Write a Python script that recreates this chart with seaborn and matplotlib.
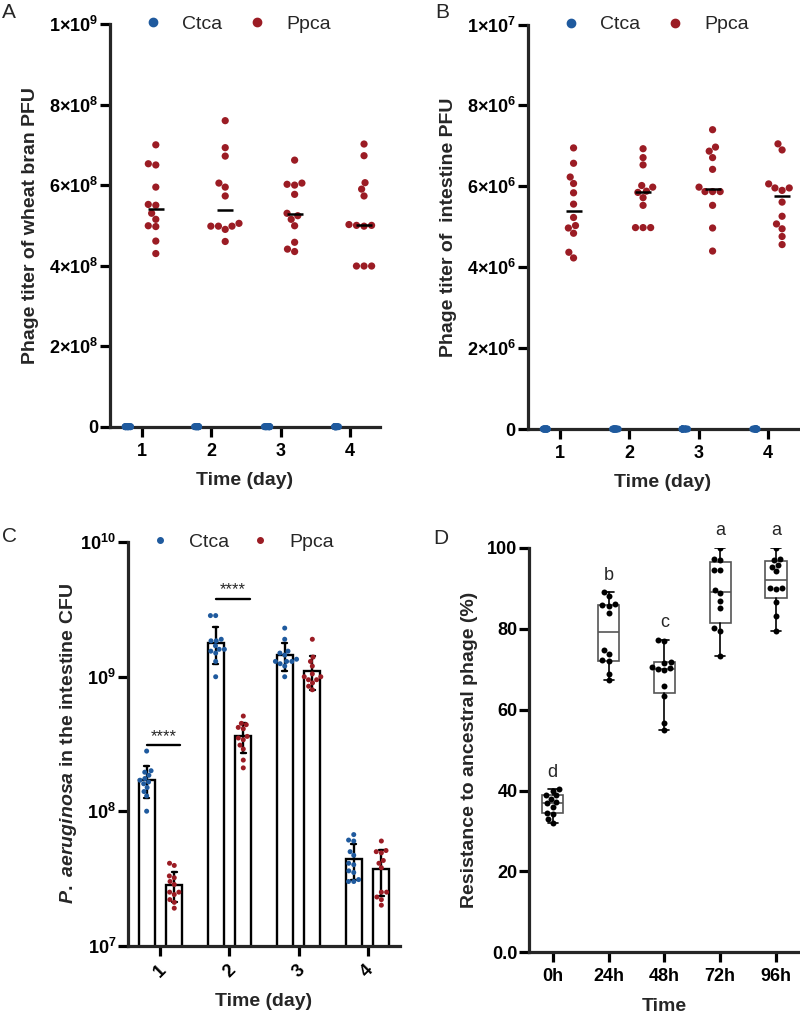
import matplotlib.pyplot as plt
import numpy as np
import pandas as pd
import seaborn as sns
from matplotlib.lines import Line2D

days = ["1", "2", "3", "4"]
groups = ["Ctca", "Ppca"]
times = ["0h", "24h", "48h", "72h", "96h"]
n_mice = 12

# A: phage titer of wheat bran, x1e8 PFU (Ctca had no phage)
bran_ctca = [[0.0] * n_mice for _ in days]
bran_ppca = [
    [7.0, 6.53, 6.5, 5.95, 5.52, 5.5, 5.3, 5.15, 4.99, 4.97, 4.61, 4.3],
    [7.6, 6.93, 6.72, 6.05, 5.95, 5.73, 5.05, 4.98, 4.98, 4.98, 4.9, 4.6],
    [6.62, 6.05, 6.02, 6.0, 5.77, 5.3, 5.24, 5.15, 4.99, 4.58, 4.41, 4.35],
    [7.02, 6.73, 6.06, 5.9, 5.73, 5.02, 5.0, 5.0, 4.98, 3.99, 3.99, 3.99],
]

# B: phage titer of intestine, x1e6 PFU
gut_ctca = [[0.0] * n_mice for _ in days]
gut_ppca = [
    [6.95, 6.57, 6.23, 6.07, 5.84, 5.56, 5.23, 5.03, 4.97, 4.84, 4.37, 4.23],
    [6.93, 6.71, 6.53, 6.02, 5.98, 5.88, 5.85, 5.72, 5.53, 4.98, 4.98, 4.98],
    [7.40, 6.97, 6.87, 6.71, 6.42, 5.98, 5.87, 5.87, 5.87, 5.53, 4.97, 4.40],
    [7.05, 6.90, 6.06, 5.96, 5.96, 5.90, 5.61, 5.26, 5.07, 4.95, 4.76, 4.56],
]

# C: P. aeruginosa in the intestine, CFU
cfu_ctca = [
    [2.8e8, 2.0e8, 1.95e8, 1.85e8, 1.75e8, 1.7e8, 1.65e8, 1.6e8, 1.5e8, 1.4e8, 1.3e8, 1.0e8],
    [2.85e9, 2.85e9, 1.9e9, 1.85e9, 1.85e9, 1.7e9, 1.6e9, 1.6e9, 1.55e9, 1.5e9, 1.3e9, 1.0e9],
    [2.3e9, 1.9e9, 1.55e9, 1.5e9, 1.45e9, 1.35e9, 1.3e9, 1.3e9, 1.3e9, 1.25e9, 1.2e9, 1.0e9],
    [6.7e7, 6.1e7, 6.0e7, 5.0e7, 4.7e7, 4.1e7, 4.0e7, 3.6e7, 3.5e7, 3.1e7, 3.0e7, 3.0e7],
]
cfu_ppca = [
    [4.1e7, 3.95e7, 3.3e7, 3.2e7, 3.0e7, 2.85e7, 2.5e7, 2.5e7, 2.4e7, 2.2e7, 2.1e7, 1.9e7],
    [5.1e8, 4.5e8, 4.4e8, 4.2e8, 4.1e8, 3.6e8, 3.5e8, 3.4e8, 3.1e8, 2.9e8, 2.4e8, 2.1e8],
    [1.9e9, 1.4e9, 1.3e9, 1.2e9, 1.05e9, 1.0e9, 1.0e9, 0.95e9, 0.95e9, 0.9e9, 0.85e9, 0.8e9],
    [6.0e7, 5.1e7, 5.0e7, 4.9e7, 4.3e7, 4.1e7, 3.8e7, 2.5e7, 2.5e7, 2.3e7, 2.2e7, 2.0e7],
]
sig_days = ["1", "2"]
sig_heights = [3.1e8, 3.8e9]

# D: resistance to ancestral phage (%)
resistance = [
    [40.3, 40.0, 39.0, 38.8, 38.0, 37.2, 36.8, 36.0, 34.5, 34.3, 33.0, 32.0],
    [89.0, 88.0, 86.0, 85.8, 85.6, 83.8, 74.7, 73.7, 72.2, 72.0, 68.9, 67.4],
    [77.3, 77.0, 71.8, 71.6, 70.5, 70.2, 70.0, 69.8, 65.8, 63.4, 56.8, 54.9],
    [100.0, 97.2, 97.0, 94.6, 94.4, 89.5, 88.7, 86.8, 85.2, 80.1, 79.5, 73.3],
    [100.0, 97.2, 97.0, 95.8, 95.3, 94.2, 90.1, 90.0, 89.8, 86.7, 83.2, 79.5],
]
letters = ["d", "b", "c", "a", "a"]

palette = {"Ctca": "#1f5a9e", "Ppca": "#9b1c24"}
SPINE_W = 2.3

sns.set_style("ticks")
plt.rcParams["font.family"] = ["Liberation Sans", "DejaVu Sans"]
plt.rcParams["mathtext.fontset"] = "custom"
plt.rcParams["mathtext.rm"] = "Liberation Sans:bold"
plt.rcParams["mathtext.bf"] = "Liberation Sans:bold"
plt.rcParams["mathtext.it"] = "Liberation Sans:italic:bold"
np.random.seed(3)


def to_long(ctca, ppca, scale=1.0):
    rows = []
    for day, c_vals, p_vals in zip(days, ctca, ppca):
        rows += [(day, "Ctca", v * scale) for v in c_vals]
        rows += [(day, "Ppca", v * scale) for v in p_vals]
    return pd.DataFrame(rows, columns=["day", "group", "value"])


def style_axis(ax, xlabel, ylabel, ypad=7):
    sns.despine(ax=ax)
    ax.spines[["left", "bottom"]].set_linewidth(SPINE_W)
    ax.tick_params(width=SPINE_W, length=7.5, labelsize=13, colors="black")
    ax.tick_params(axis="y", pad=1)
    ax.tick_params(axis="x", pad=4)
    for lbl in ax.get_xticklabels() + ax.get_yticklabels():
        lbl.set_fontweight("bold")
    ax.set_xlabel(xlabel, fontsize=14, fontweight="bold", labelpad=9)
    ax.set_ylabel(ylabel, fontsize=14, fontweight="bold", labelpad=ypad)


def add_legend(ax, anchor_x, msize, spacing):
    handles = [
        Line2D([], [], marker="o", ls="", color=palette[g], markersize=msize)
        for g in groups
    ]
    ax.legend(
        handles, groups, loc="center", bbox_to_anchor=(anchor_x, 1.0), ncol=2,
        frameon=False, fontsize=14, handlelength=1.0, handletextpad=1.0,
        columnspacing=spacing, borderaxespad=0,
    )


def phage_panel(ax, df, ymax, ticks, ticklabels, ylabel):
    ctca = df[df["group"] == "Ctca"]
    ppca = df[df["group"] == "Ppca"]
    sns.stripplot(
        data=ctca, x="day", y="value", hue="group", hue_order=groups, order=days,
        palette=palette, dodge=True, jitter=0.09, size=5, legend=False,
        clip_on=False, zorder=5, ax=ax,
    )
    sns.swarmplot(
        data=ppca, x="day", y="value", hue="group", hue_order=groups, order=days,
        palette=palette, dodge=True, size=5.2, legend=False, zorder=3, ax=ax,
    )
    sns.pointplot(
        data=ppca, x="day", y="value", hue="group", hue_order=groups, order=days,
        palette={"Ctca": "black", "Ppca": "black"}, estimator="median",
        errorbar=None, dodge=0.4, markers="_", linestyles="none", markersize=12,
        markeredgewidth=1.8, legend=False, zorder=4, ax=ax,
    )
    ax.set_xlim(-0.46, 3.43)
    ax.set_ylim(0, ymax)
    ax.set_yticks(ticks)
    ax.set_yticklabels(ticklabels)
    style_axis(ax, "Time (day)", ylabel)
    add_legend(ax, 0.47, 6, 1.3)


fig = plt.figure(figsize=(8, 10.14), dpi=100)

# A
ax_a = fig.add_axes([0.1375, 0.5792, 0.3375, 0.3971])
bran = to_long(bran_ctca, bran_ppca, 1e8)
phage_panel(
    ax_a, bran, 1e9, [0, 2e8, 4e8, 6e8, 8e8, 1e9],
    ["0", r"$\mathbf{2×10^{8}}$", r"$\mathbf{4×10^{8}}$", r"$\mathbf{6×10^{8}}$",
     r"$\mathbf{8×10^{8}}$", r"$\mathbf{1×10^{9}}$"],
    "Phage titer of wheat bran PFU",
)

# B
ax_b = fig.add_axes([0.6596, 0.5769, 0.338, 0.3989])
gut = to_long(gut_ctca, gut_ppca, 1e6)
phage_panel(
    ax_b, gut, 1e7, [0, 2e6, 4e6, 6e6, 8e6, 1e7],
    ["0", r"$\mathbf{2×10^{6}}$", r"$\mathbf{4×10^{6}}$", r"$\mathbf{6×10^{6}}$",
     r"$\mathbf{8×10^{6}}$", r"$\mathbf{1×10^{7}}$"],
    "Phage titer of  intestine PFU",
)

# C
ax_c = fig.add_axes([0.16, 0.0674, 0.34, 0.3978])
cfu = to_long(cfu_ctca, cfu_ppca)
sns.barplot(
    data=cfu, x="day", y="value", hue="group", hue_order=groups, order=days,
    palette={"Ctca": "white", "Ppca": "white"}, edgecolor="black", linewidth=1.7,
    errorbar="sd", width=0.8, gap=0.42, capsize=0.15,
    err_kws={"color": "black", "linewidth": 1.7}, legend=False, ax=ax_c,
)
ax_c.set_yscale("log")
ax_c.set_ylim(1e7, 1e10)
sns.swarmplot(
    data=cfu, x="day", y="value", hue="group", hue_order=groups, order=days,
    palette=palette, dodge=True, size=3.6, legend=False, zorder=3, ax=ax_c,
)
ax_c.set_xlim(-0.47, 3.47)
ax_c.minorticks_off()
ax_c.set_yticks([1e7, 1e8, 1e9, 1e10])
ax_c.set_yticklabels([r"$\mathbf{10^{7}}$", r"$\mathbf{10^{8}}$",
                      r"$\mathbf{10^{9}}$", r"$\mathbf{10^{10}}$"])
for day, h in zip(sig_days, sig_heights):
    i = days.index(day)
    ax_c.plot([i - 0.2, i + 0.29], [h, h], color="black", lw=1.7)
    ax_c.annotate("****", (i + 0.045, h), xytext=(0, 1), textcoords="offset points",
                  ha="center", va="bottom", fontsize=12)
style_axis(ax_c, "Time (day)",
           r"$P.\ aeruginosa$ in the intestine CFU", ypad=1)
plt.setp(ax_c.get_xticklabels(), rotation=45, ha="center")
add_legend(ax_c, 0.42, 4, 1.1)

# D
ax_d = fig.add_axes([0.6616, 0.0608, 0.3384, 0.399])
res = pd.DataFrame(
    [(t, v) for t, vals in zip(times, resistance) for v in vals],
    columns=["time", "value"],
)
sns.swarmplot(data=res, x="time", y="value", order=times, color="black",
              size=4.3, zorder=3, ax=ax_d)
stats = []
for vals in resistance:
    v = np.asarray(vals)
    q1, med, q3 = np.percentile(v, [25, 50, 75], method="weibull")
    stats.append(dict(med=med, q1=q1, q3=q3, whislo=v.min(), whishi=v.max(), fliers=[]))
ax_d.bxp(
    stats, positions=np.arange(len(times)), widths=0.38, patch_artist=True,
    manage_ticks=False, showfliers=False, capwidths=0.18,
    boxprops=dict(facecolor="white", edgecolor="#555555", linewidth=1.2),
    medianprops=dict(color="#555555", linewidth=1.2),
    whiskerprops=dict(color="black", linewidth=1.2),
    capprops=dict(color="black", linewidth=1.2),
)
for i, (vals, letter) in enumerate(zip(resistance, letters)):
    ax_d.annotate(letter, (i, max(vals)), xytext=(0, 6), textcoords="offset points",
                  ha="center", va="bottom", fontsize=13, annotation_clip=False)
ax_d.set_xlim(-0.42, 4.43)
ax_d.set_ylim(0, 100)
ax_d.set_yticks([0, 20, 40, 60, 80, 100])
ax_d.set_yticklabels(["0.0", "20", "40", "60", "80", "100"])
style_axis(ax_d, "Time", "Resistance to ancestral phage (%)")

for letter, x, y in [("A", 2, 3), ("B", 435, 3), ("C", 2, 527), ("D", 433, 529)]:
    fig.text(x / 800, 1 - y / 1014, letter, fontsize=15, va="top", ha="left")

fig.savefig("out.png", dpi=100)
